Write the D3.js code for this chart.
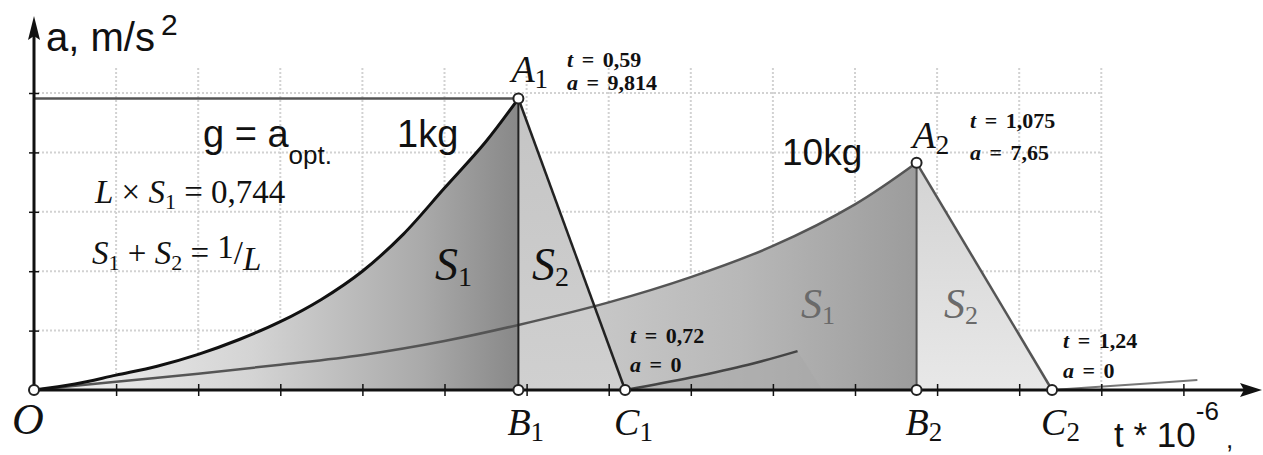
<!DOCTYPE html>
<html>
<head>
<meta charset="utf-8">
<script src="https://cdn.jsdelivr.net/npm/d3@7"></script>
<style>
  body { margin: 0; background: #fff; }
  svg { display: block; }
</style>
</head>
<body>
<div id="chart"></div>
<script>
// values (t in 10^-6 s, a in m/s^2)
const curve1T = [0, 0.05, 0.1, 0.15, 0.2, 0.25, 0.3, 0.35, 0.4, 0.45, 0.5, 0.55, 0.59];
const curve1A = [0, 0.2, 0.5, 0.8, 1.2, 1.7, 2.3, 3.05, 4.0, 5.25, 6.8, 8.35, 9.814];
const curve2T = [0, 0.1, 0.2, 0.3, 0.4, 0.5, 0.59, 0.7, 0.8, 0.9, 1.0, 1.075];
const curve2A = [0, 0.28, 0.55, 0.85, 1.18, 1.65, 2.19, 2.95, 3.8, 4.85, 6.25, 7.65];
const tail1T = [0.72, 0.8, 0.87, 0.93];
const tail1A = [0, 0.42, 0.85, 1.31];
const tail2T = [1.24, 1.32, 1.417];
const tail2A = [0, 0.15, 0.34];

const pointNames = ['O', 'A1', 'B1', 'C1', 'A2', 'B2', 'C2'];
const pointT = [0, 0.59, 0.59, 0.72, 1.075, 1.075, 1.24];
const pointA = [0, 9.814, 0, 0, 7.65, 0, 0];

const noteT = ['t = 0,59', 't = 1,075', 't = 0,72', 't = 1,24'];
const noteA = ['a = 9,814', 'a = 7,65', 'a = 0', 'a = 0'];
const massLabels = ['1kg', '10kg'];

const xTicks = d3.range(1, 15).map(d => d / 10);
const yTicks = [2, 4, 6, 8, 10];

const width = 1263, height = 455;
const x = d3.scaleLinear().domain([0, 1]).range([34, 855]);
const y = d3.scaleLinear().domain([0, 10]).range([390, 93]);

const serif = '"Liberation Serif", "DejaVu Serif", serif';
const sans = '"Liberation Sans", Arial, sans-serif';

const svg = d3.select('#chart').append('svg')
  .attr('width', width)
  .attr('height', height);

const defs = svg.append('defs');
const grad = (id, x1, x2, stops) => {
  const g = defs.append('linearGradient').attr('id', id)
    .attr('gradientUnits', 'userSpaceOnUse')
    .attr('x1', x1[0]).attr('y1', x1[1]).attr('x2', x2[0]).attr('y2', x2[1]);
  stops.forEach(s => g.append('stop').attr('offset', s[0]).attr('stop-color', s[1]));
};
grad('g1', [x(0), 0], [x(0.59), 0], [[0, '#f2f2f2'], [0.45, '#d4d4d4'], [0.8, '#aaa'], [1, '#888']]);
grad('g2', [x(0), 0], [x(1.075), 0], [[0, '#f2f2f2'], [0.5, '#d4d4d4'], [0.8, '#b8b8b8'], [1, '#9c9c9c']]);
grad('g3', [0, y(10)], [0, y(0)], [[0, '#c4c4c4'], [1, '#d0d0d0']]);
grad('g4', [0, y(8)], [0, y(0)], [[0, '#d2d2d2'], [1, '#e8e8e8']]);

// grid
const grid = svg.append('g')
  .attr('stroke', '#d2d2d2')
  .attr('stroke-width', 2)
  .attr('stroke-dasharray', '2,2');
grid.selectAll('.vg').data(xTicks.filter(d => d < 1.35)).enter().append('line')
  .attr('x1', d => x(d)).attr('x2', d => x(d))
  .attr('y1', y(0)).attr('y2', y(10.9));
grid.selectAll('.hg').data(yTicks).enter().append('line')
  .attr('x1', x(0)).attr('x2', x(1.3))
  .attr('y1', d => y(d)).attr('y2', d => y(d));

const line = d3.line().x(d => x(d[0])).y(d => y(d[1])).curve(d3.curveCatmullRom);
const zip = (ts, as) => ts.map((t, i) => [t, as[i]]);
const c1 = zip(curve1T, curve1A);
const c2 = zip(curve2T, curve2A);
const t1 = zip(tail1T, tail1A);
const t2 = zip(tail2T, tail2A);

const area = d3.area().x(d => x(d[0])).y0(y(0)).y1(d => y(d[1])).curve(d3.curveCatmullRom);

// 10kg areas
svg.append('path').attr('d', area(c2)).attr('fill', 'url(#g2)');
svg.append('path')
  .attr('d', d3.line()([[x(1.075), y(7.65)], [x(1.24), y(0)], [x(1.075), y(0)]]) + 'Z')
  .attr('fill', 'url(#g4)');
svg.append('path')
  .attr('d', line(t1) + `L${x(0.96)},${y(0)}Z`)
  .attr('fill', '#a8a8a8').attr('opacity', 0.55);

// 1kg areas
svg.append('path').attr('d', area(c1)).attr('fill', 'url(#g1)');
svg.append('path')
  .attr('d', d3.line()([[x(0.59), y(9.814)], [x(0.72), y(0)], [x(0.59), y(0)]]) + 'Z')
  .attr('fill', 'url(#g3)');

// level line of A1
svg.append('line')
  .attr('x1', x(0)).attr('x2', x(0.59))
  .attr('y1', y(9.814)).attr('y2', y(9.814))
  .attr('stroke', '#555').attr('stroke-width', 2.5);

// curves and edges
svg.append('path').attr('d', line(c2)).attr('fill', 'none').attr('stroke', '#555').attr('stroke-width', 2.5);
svg.append('path').attr('d', line(t1)).attr('fill', 'none').attr('stroke', '#444').attr('stroke-width', 2.5);
svg.append('path').attr('d', line(t2)).attr('fill', 'none').attr('stroke', '#777').attr('stroke-width', 2);
svg.append('line').attr('x1', x(1.075)).attr('x2', x(1.075)).attr('y1', y(7.65)).attr('y2', y(0))
  .attr('stroke', '#555').attr('stroke-width', 2);
svg.append('line').attr('x1', x(1.075)).attr('x2', x(1.24)).attr('y1', y(7.65)).attr('y2', y(0))
  .attr('stroke', '#555').attr('stroke-width', 2.5);
svg.append('path').attr('d', line(c1)).attr('fill', 'none').attr('stroke', '#111').attr('stroke-width', 3);
svg.append('line').attr('x1', x(0.59)).attr('x2', x(0.59)).attr('y1', y(9.814)).attr('y2', y(0))
  .attr('stroke', '#222').attr('stroke-width', 2);
svg.append('line').attr('x1', x(0.59)).attr('x2', x(0.72)).attr('y1', y(9.814)).attr('y2', y(0))
  .attr('stroke', '#222').attr('stroke-width', 2.5);

// axes
const xAxis = svg.append('g')
  .attr('transform', `translate(0,${y(0) - 6})`)
  .call(d3.axisBottom(x).tickValues(xTicks).tickSize(12).tickFormat(''));
xAxis.select('.domain').remove();
xAxis.selectAll('line').attr('stroke', '#111').attr('stroke-width', 1.5);

const yAxis = svg.append('g')
  .attr('transform', `translate(${x(0) + 5},0)`)
  .call(d3.axisLeft(y).tickValues(yTicks).tickSize(10).tickFormat(''));
yAxis.select('.domain').remove();
yAxis.selectAll('line').attr('stroke', '#111').attr('stroke-width', 1.5);

svg.append('line').attr('x1', x(0)).attr('x2', 1245).attr('y1', y(0)).attr('y2', y(0))
  .attr('stroke', '#111').attr('stroke-width', 3);
svg.append('path').attr('d', `M1262,${y(0)}L1240,${y(0) - 7}L1244,${y(0)}L1240,${y(0) + 7}Z`).attr('fill', '#111');
svg.append('line').attr('x1', x(0)).attr('x2', x(0)).attr('y1', y(0)).attr('y2', 30)
  .attr('stroke', '#111').attr('stroke-width', 3);
svg.append('path').attr('d', `M${x(0)},16L${x(0) - 6},40L${x(0)},36L${x(0) + 6},40Z`).attr('fill', '#111');

// points
svg.selectAll('.pt').data(pointT).enter().append('circle')
  .attr('cx', d => x(d)).attr('cy', (d, i) => y(pointA[i]))
  .attr('r', 5).attr('fill', '#fff').attr('stroke', '#222').attr('stroke-width', 2);

// text helper: parts [text, size, dy, italic]
const label = (px, py, family, parts, color, weight) => {
  const t = svg.append('text').attr('x', px).attr('y', py)
    .attr('font-family', family).attr('fill', color || '#111')
    .attr('font-weight', weight || 'normal');
  parts.forEach(p => {
    t.append('tspan').attr('font-size', p[1]).attr('dy', p[2] || 0)
      .attr('font-style', p[3] ? 'italic' : 'normal').text(p[0]);
  });
  return t;
};

// axis titles
label(46, 51, sans, [['a, m/s', 40], ['\u2009', 30], ['2', 30, -16]]);
label(1114, 447, sans, [['t * 10', 35], ['-6', 26, -27], [' ,', 26, 28]]);

// point names
const nameOf = i => [[pointNames[i][0], pointNames[i] === 'O' ? 44 : 38, 0, true],
  [pointNames[i].slice(1), 27, 6, false]];
label(12, 434, serif, nameOf(0));
[2, 3, 5, 6].forEach(i => label(x(pointT[i]) - 11, 435, serif, nameOf(i)));
label(x(0.59) - 7, 82, serif, nameOf(1));
label(x(1.075) - 4, 148, serif, nameOf(4));

// value notes
const notePos = [[567, 67, 90], [970, 128, 160], [630, 343, 372], [1063, 348, 378]];
notePos.forEach((p, i) => {
  [noteT[i], noteA[i]].forEach((s, j) => {
    label(p[0], j ? p[2] : p[1], serif,
      [[s[0], 22, 0, true], [s.slice(1), 22, 0, false]], '#111', 'bold')
      .attr('word-spacing', 3);
  });
});

// legend-like labels
label(203, 147, sans, [['g = a', 38], ['opt.', 26, 17]]);
label(397, 147, sans, [[massLabels[0], 38]]);
label(782, 165, sans, [[massLabels[1], 37]]);

label(95, 203, serif, [['L', 33, 0, true], [' \u00d7 ', 33], ['S', 33, 0, true], ['1', 22, 6], [' = 0,744', 33, -6]]);
label(92, 264, serif, [['S', 33, 0, true], ['1', 22, 6], [' + ', 33, -6], ['S', 33, 0, true], ['2', 22, 6],
  [' = ', 33, -6], ['1', 33, -6], ['/', 33, 6], ['L', 33, 6, true]]);

// area names
label(435, 280, serif, [['S', 46, 0, true], ['1', 28, 6]]);
label(532, 280, serif, [['S', 46, 0, true], ['2', 28, 6]]);
label(801, 318, serif, [['S', 42, 0, true], ['1', 26, 6]], '#6a6a6a');
label(944, 318, serif, [['S', 42, 0, true], ['2', 26, 6]], '#6a6a6a');
</script>
</body>
</html>
